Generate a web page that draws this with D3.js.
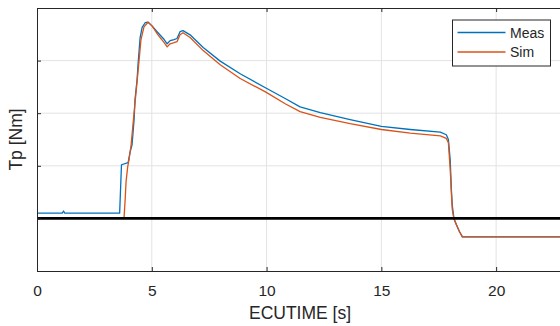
<!DOCTYPE html>
<html>
<head>
<meta charset="utf-8">
<script src="https://cdn.jsdelivr.net/npm/d3@7"></script>
<style>
  body { margin: 0; background: #fff; }
  svg { display: block; font-family: "Liberation Sans", Arial, sans-serif; }
</style>
</head>
<body>
<svg id="chart"></svg>
<script>
// data (time in s, torque in Nm)
const measT = [0, 1.10, 1.155, 1.21, 3.60, 3.68, 3.97, 4.05, 4.14, 4.23, 4.27, 4.36, 4.40, 4.49, 4.58, 4.71, 4.84, 5.01, 5.27, 5.54, 5.67, 5.80, 5.97, 6.10, 6.23, 6.36, 6.67, 7.24, 7.98, 8.85, 9.97, 10.81, 11.46, 12.34, 13.64, 15.0, 16.26, 17.57, 17.83, 17.92, 18.00, 18.05, 18.09, 18.16, 18.27, 18.40, 18.53, 23];
const measV = [0.10, 0.10, 0.14, 0.10, 0.10, 1.02, 1.06, 1.25, 1.40, 1.88, 2.26, 2.64, 2.92, 3.43, 3.63, 3.72, 3.73, 3.66, 3.53, 3.40, 3.32, 3.38, 3.40, 3.42, 3.55, 3.57, 3.49, 3.25, 2.99, 2.75, 2.48, 2.28, 2.12, 2.01, 1.88, 1.75, 1.69, 1.64, 1.59, 1.50, 1.11, 0.55, 0.25, 0, -0.12, -0.25, -0.35, -0.35];

const simT = [0, 3.79, 3.84, 3.88, 3.95, 4.01, 4.10, 4.18, 4.27, 4.36, 4.45, 4.53, 4.66, 4.84, 5.01, 5.27, 5.54, 5.67, 5.80, 5.97, 6.10, 6.23, 6.36, 6.67, 7.24, 7.98, 8.85, 9.97, 10.81, 11.46, 12.34, 13.64, 15.0, 16.26, 17.57, 17.83, 17.92, 18.00, 18.05, 18.09, 18.16, 18.27, 18.40, 18.53, 23];
const simV = [0, 0, 0.36, 0.70, 0.98, 1.12, 1.40, 1.78, 2.20, 2.60, 3.02, 3.40, 3.64, 3.73, 3.66, 3.49, 3.34, 3.26, 3.32, 3.34, 3.36, 3.49, 3.53, 3.44, 3.19, 2.92, 2.66, 2.40, 2.18, 2.03, 1.92, 1.80, 1.69, 1.62, 1.57, 1.52, 1.44, 0.93, 0.49, 0.17, 0, -0.12, -0.25, -0.35, -0.35];

const xTicks = [0, 5, 10, 15, 20];
const yTicks = [-1, 0, 1, 2, 3, 4];
const seriesNames = ["Meas", "Sim"];
const seriesColors = ["#0072BD", "#D95319"];

const width = 560, height = 326;
const margin = { left: 37, top: 8, bottom: 55 };
const axisColor = "#262626";

const svg = d3.select("#chart")
  .attr("width", width)
  .attr("height", height);

const x = d3.scaleLinear().domain([0, 23]).range([margin.left, 565]);
const y = d3.scaleLinear().domain([-1, 4]).range([height - margin.bottom, margin.top]);

const plotLeft = x(0), plotRight = x(23), plotTop = y(4), plotBottom = y(-1);

// grid
svg.append("g")
  .selectAll("line.gx")
  .data(xTicks.filter(d => d > 0))
  .join("line")
  .attr("x1", d => x(d)).attr("x2", d => x(d))
  .attr("y1", plotTop).attr("y2", plotBottom)
  .attr("stroke", "#e3e3e3").attr("stroke-width", 1);

svg.append("g")
  .selectAll("line.gy")
  .data(yTicks.filter(d => d > -1 && d < 4))
  .join("line")
  .attr("x1", plotLeft).attr("x2", plotRight)
  .attr("y1", d => y(d)).attr("y2", d => y(d))
  .attr("stroke", "#e3e3e3").attr("stroke-width", 1);

// series
const line = d3.line().x(d => x(d[0])).y(d => y(d[1]));
const series = [d3.zip(measT, measV), d3.zip(simT, simV)];
series.forEach((s, i) => {
  svg.append("path")
    .datum(s)
    .attr("d", line)
    .attr("fill", "none")
    .attr("stroke", seriesColors[i])
    .attr("stroke-width", 1.3)
    .attr("stroke-linejoin", "round");
});

// zero line
svg.append("line")
  .attr("x1", plotLeft).attr("x2", width)
  .attr("y1", y(0)).attr("y2", y(0))
  .attr("stroke", "#000").attr("stroke-width", 2.6);

// axes box
const xAxis = d3.axisBottom(x).tickValues(xTicks).tickSizeInner(-4).tickSizeOuter(0).tickPadding(14);
const gx = svg.append("g")
  .attr("transform", `translate(0,${plotBottom})`)
  .call(xAxis);
gx.select(".domain").attr("stroke", axisColor);
gx.selectAll(".tick line").attr("stroke", axisColor);
gx.selectAll(".tick text").attr("fill", axisColor).attr("font-size", 15.5);

const gxTop = svg.append("g")
  .attr("transform", `translate(0,${plotTop})`)
  .call(d3.axisTop(x).tickValues(xTicks).tickSizeInner(-4).tickSizeOuter(0).tickFormat(""));
gxTop.select(".domain").attr("stroke", axisColor);
gxTop.selectAll(".tick line").attr("stroke", axisColor);

const gy = svg.append("g")
  .attr("transform", `translate(${plotLeft},0)`)
  .call(d3.axisLeft(y).tickValues(yTicks).tickSizeInner(-4).tickSizeOuter(0).tickFormat(""));
gy.select(".domain").attr("stroke", axisColor);
gy.selectAll(".tick line").attr("stroke", axisColor);

// axis labels
svg.append("text")
  .attr("x", 300).attr("y", 318.5)
  .attr("text-anchor", "middle")
  .attr("font-size", 17.5)
  .attr("fill", axisColor)
  .text("ECUTIME [s]");

svg.append("text")
  .attr("transform", `translate(22,${(plotTop + plotBottom) / 2}) rotate(-90)`)
  .attr("text-anchor", "middle")
  .attr("font-size", 17.5)
  .attr("fill", axisColor)
  .text("Tp [Nm]");

// legend
const legend = svg.append("g").attr("transform", "translate(452.5,20)");
legend.append("rect")
  .attr("width", 98).attr("height", 46)
  .attr("fill", "#fff")
  .attr("stroke", axisColor).attr("stroke-width", 1);
seriesNames.forEach((name, i) => {
  const ly = 12.5 + i * 19.5;
  legend.append("line")
    .attr("x1", 5).attr("x2", 53)
    .attr("y1", ly).attr("y2", ly)
    .attr("stroke", seriesColors[i]).attr("stroke-width", 1.3);
  legend.append("text")
    .attr("x", 57.5).attr("y", ly + 5)
    .attr("font-size", 14)
    .attr("fill", axisColor)
    .text(name);
});
</script>
</body>
</html>
